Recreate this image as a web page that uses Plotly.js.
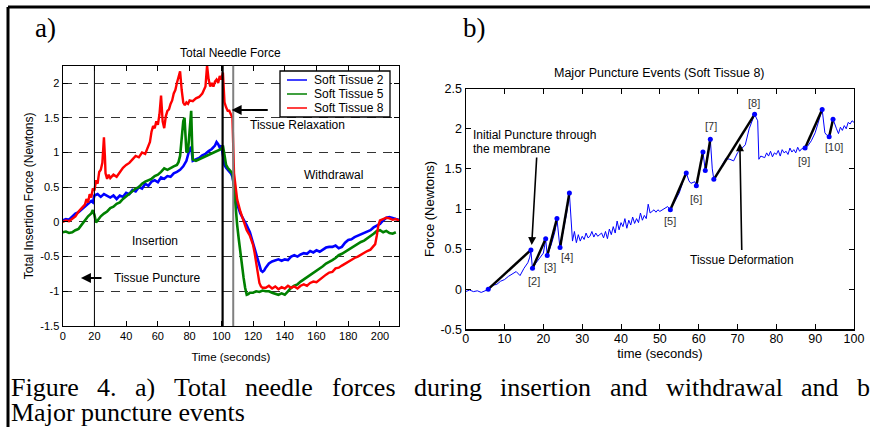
<!DOCTYPE html>
<html>
<head>
<meta charset="utf-8">
<script src="https://cdn.plot.ly/plotly-3.0.1.min.js"></script>
<style>
html,body{margin:0;padding:0;background:#fff;}
#chart{width:870px;height:427px;}
</style>
</head>
<body>
<div id="chart"></div>
<script>
// ---------- Panel a: Total Needle Force ----------
const tissue2_t = [0,2,4,6,8,10,12,14,16,18,19,20,22,24,26,28,30,32,34,36,38,40,42,44,46,48,50,52,54,56,58,60,62,64,66,68,70,72,74,76,78,80,81,82,84,86,88,90,92,94,96,97,98,99,100,101,102,103,104,105,106,107,108,109,110,112,114,116,118,120,122,124,125,126,127,128,130,132,134,136,138,140,142,144,146,148,150,152,154,156,158,160,162,164,166,168,170,172,174,176,178,180,182,184,186,188,190,192,194,196,198,200,202,204,206,208,210,212];
const tissue2_v = [0.02,0.04,0.03,0.07,0.12,0.14,0.18,0.22,0.25,0.3,0.28,0.38,0.4,0.36,0.4,0.37,0.35,0.38,0.33,0.38,0.36,0.42,0.4,0.46,0.44,0.5,0.48,0.55,0.52,0.58,0.6,0.57,0.64,0.62,0.66,0.65,0.7,0.72,0.75,0.8,0.88,1.05,1.08,0.88,0.9,0.92,0.96,0.98,1.02,1.05,1.1,1.15,1.12,1.07,1.1,0.95,0.82,0.78,0.75,0.72,0.7,0.65,0.52,0.38,0.25,0.12,0.04,-0.05,-0.15,-0.3,-0.45,-0.6,-0.7,-0.72,-0.7,-0.66,-0.6,-0.57,-0.55,-0.54,-0.56,-0.54,-0.55,-0.5,-0.48,-0.5,-0.47,-0.45,-0.46,-0.42,-0.44,-0.41,-0.43,-0.4,-0.37,-0.36,-0.36,-0.34,-0.38,-0.36,-0.3,-0.26,-0.25,-0.22,-0.2,-0.18,-0.16,-0.14,-0.12,-0.08,-0.05,-0.03,0.02,0.06,0.07,0.05,0.04,0.03];

const tissue5_t = [0,2,4,6,8,10,12,14,16,18,19,20,21,22,24,26,28,30,32,34,36,38,40,42,44,46,48,50,52,54,56,58,60,62,64,66,68,70,72,73,74,75,76,76.8,77.5,78,79,80,81,81.6,82,84,86,88,90,92,94,96,98,100,101,102,103,104,105,106,107,108,109,110,111,112,113,114,115,116,117,118,120,122,124,126,128,130,132,134,136,138,140,142,144,146,148,150,152,154,156,158,160,162,164,166,168,170,172,174,176,178,180,182,184,186,188,190,192,194,196,198,200,202,204,206,208,210];
const tissue5_v = [-0.15,-0.14,-0.16,-0.15,-0.12,-0.1,-0.04,0.02,0.08,0.12,0.17,0.1,-0.01,0.02,0.08,0.12,0.15,0.2,0.22,0.26,0.28,0.33,0.37,0.4,0.45,0.48,0.5,0.55,0.58,0.6,0.62,0.66,0.68,0.72,0.77,0.75,0.78,0.8,0.82,0.86,0.95,1.2,1.45,1.5,1.2,1.0,1.02,1.3,1.6,1.1,0.9,0.88,0.9,0.93,0.95,0.97,0.98,1.0,1.02,1.05,1.1,0.92,0.82,0.78,0.75,0.72,0.7,0.5,0.2,-0.05,-0.25,-0.45,-0.62,-0.8,-0.95,-1.05,-1.04,-1.02,-1.02,-1.0,-1.01,-0.99,-1.0,-1.0,-1.02,-1.04,-1.05,-1.03,-1.05,-1.0,-0.95,-0.92,-0.9,-0.86,-0.83,-0.8,-0.77,-0.73,-0.7,-0.67,-0.64,-0.6,-0.58,-0.55,-0.52,-0.48,-0.46,-0.43,-0.4,-0.37,-0.34,-0.32,-0.29,-0.27,-0.24,-0.21,-0.17,-0.13,-0.12,-0.15,-0.13,-0.16,-0.17,-0.15];

const tissue8_t = [0,2,4,6,8,10,12,14,15,16,17,18,19,20,21,22,23,24,25,26,26.6,27,28,29,30,32,34,36,38,40,42,44,46,48,50,52,54,55,56,57,58,59,60,61,62,63,64,65,66,67,68,69,70,71,72,73,74,75,76,77,78,79,80,82,84,86,88,89,90,91,92,93,94,95,96,97,98,99,100,101,101.5,102,103,104,105,106,107,108,109,110,112,114,116,118,120,121,122,123,124,125,126,128,130,132,134,136,138,140,142,144,146,148,150,152,154,156,158,160,162,164,166,168,170,172,174,176,178,180,182,184,186,188,190,192,194,196,197,198,199,200,202,204,206,208,210,212];
const tissue8_v = [0.0,0.02,0.01,0.05,0.08,0.15,0.2,0.25,0.33,0.28,0.4,0.35,0.48,0.45,0.6,0.55,0.72,0.75,0.85,1.22,0.95,0.7,0.62,0.68,0.63,0.68,0.65,0.72,0.78,0.82,0.85,0.9,0.95,0.93,1.0,0.98,1.08,1.15,1.3,1.38,1.35,1.45,1.4,1.55,1.82,1.45,1.35,1.52,1.6,1.62,1.7,1.75,1.85,1.9,2.0,2.08,2.17,1.9,1.72,1.68,1.72,1.7,1.75,1.74,1.78,1.8,1.85,1.9,1.95,2.25,2.05,1.95,2.0,1.95,2.02,2.05,2.0,2.1,2.05,2.15,1.8,1.72,1.65,1.6,1.6,1.55,1.5,0.7,0.5,0.32,0.15,0.0,-0.12,-0.2,-0.33,-0.45,-0.6,-0.75,-0.88,-0.93,-0.95,-0.95,-0.92,-0.96,-0.93,-0.97,-0.94,-0.96,-0.92,-0.95,-0.93,-0.96,-0.92,-0.9,-0.92,-0.88,-0.86,-0.87,-0.83,-0.8,-0.76,-0.73,-0.72,-0.67,-0.66,-0.63,-0.6,-0.58,-0.55,-0.52,-0.5,-0.47,-0.45,-0.42,-0.4,-0.35,-0.32,-0.2,-0.05,0.02,0.04,0.06,0.05,0.03,0.04,0.02];

const seriesNames = ['Soft Tissue 2','Soft Tissue 5','Soft Tissue 8'];
const seriesColors = ['#0000ff','#008000','#ff0000'];
const eventLinesA = [20, 100.8, 107.5];   // puncture, insertion end, relaxation end

// ---------- Panel b: Major Puncture Events ----------
const st8_t = [0,1,2,3,4,5,5.5,6,7,8,9,10,11,12,13,14,15,16,16.5,16.8,17.2,18,19,20,20.6,21,22,23,23.5,24.3,25,26,26.7,27.2,27.5,28,28.5,29,29.5,30,30.5,31,31.5,32,32.5,33,33.5,34,34.5,35,35.5,36,36.5,37,37.5,38,38.5,39,39.5,40,40.5,41,41.5,42,42.5,43,43.5,44,44.5,45,45.5,46,46.5,47,47.5,48,48.5,49,49.5,50,51,52,52.7,54,55,56,56.8,57.5,58,59,59.4,60.3,61.1,61.7,62.4,63,63.5,63.9,65,66,67,68,69,70,71,72,73,74.4,75.2,75.5,76,77,77.5,78,78.5,79,79.5,80,80.5,81,81.5,82,82.5,83,83.5,84,84.5,85,85.5,86,86.5,87.4,88,89,90,91,91.8,92.5,93,93.6,94.6,95.5,96,96.5,97,97.5,98,98.5,99,99.5,100];
const st8_v = [-0.03,-0.01,-0.03,-0.02,-0.04,-0.02,0.0,0.0,0.05,0.06,0.1,0.12,0.16,0.19,0.22,0.17,0.26,0.33,0.4,0.48,0.25,0.32,0.38,0.45,0.62,0.42,0.55,0.72,0.88,0.5,0.7,0.95,1.2,0.85,0.6,0.72,0.58,0.68,0.6,0.66,0.62,0.7,0.64,0.66,0.72,0.65,0.7,0.66,0.68,0.7,0.64,0.72,0.63,0.75,0.68,0.78,0.7,0.85,0.74,0.83,0.78,0.88,0.76,0.86,0.8,0.9,0.82,0.88,0.83,0.95,0.86,0.92,0.88,1.06,0.95,0.97,0.99,0.96,0.99,0.97,1.0,1.03,0.99,1.1,1.2,1.35,1.45,1.35,1.32,1.34,1.29,1.5,1.71,1.48,1.7,1.87,1.5,1.37,1.45,1.55,1.63,1.62,1.6,1.7,1.75,1.8,2.0,2.18,2.1,1.62,1.66,1.64,1.7,1.66,1.72,1.65,1.7,1.68,1.73,1.66,1.74,1.7,1.72,1.68,1.76,1.71,1.74,1.7,1.77,1.72,1.75,1.76,1.78,1.85,1.95,2.1,2.24,1.95,1.92,1.9,2.12,2.0,1.94,2.02,1.98,2.04,2.0,2.08,2.06,2.1,2.08];

// puncture-event segments (start, end)
const seg_t = [5.8,16.8,null,17.2,20.6,null,21.0,23.5,null,24.3,26.7,null,52.7,56.8,null,59.4,61.1,null,61.7,63.0,null,63.9,74.4,null,87.4,91.8,null,93.6,94.6];
const seg_v = [0.0,0.49,null,0.26,0.63,null,0.42,0.88,null,0.52,1.2,null,0.99,1.45,null,1.29,1.71,null,1.48,1.87,null,1.37,2.18,null,1.76,2.24,null,1.9,2.12];
const eventLabels = ['[2]','[3]','[4]','[5]','[6]','[7]','[8]','[9]','[10]'];
const eventLabel_t = [17.6,21.7,26.2,52.6,59.3,63.2,74.3,87.1,94.9];
const eventLabel_v = [0.1,0.28,0.4,0.85,1.13,2.03,2.32,1.6,1.77];

const captionLine1 = 'Figure 4. a) Total needle forces during insertion and withdrawal and b';
const captionLine2 = 'Major puncture events';

const FONT = 'Arial, "Liberation Sans", sans-serif';
const SERIF = '"Times New Roman", "Liberation Serif", serif';

const traces = [
  {x: tissue2_t, y: tissue2_v, name: seriesNames[0], type:'scatter', mode:'lines', line:{color:seriesColors[0], width:2.6}, xaxis:'x', yaxis:'y', showlegend:false},
  {x: tissue5_t, y: tissue5_v, name: seriesNames[1], type:'scatter', mode:'lines', line:{color:seriesColors[1], width:2.6}, xaxis:'x', yaxis:'y', showlegend:false},
  {x: tissue8_t, y: tissue8_v, name: seriesNames[2], type:'scatter', mode:'lines', line:{color:seriesColors[2], width:2.4}, xaxis:'x', yaxis:'y', showlegend:false},
  {x: st8_t, y: st8_v, name:'Soft Tissue 8', type:'scatter', mode:'lines', line:{color:'#0000ff', width:1}, xaxis:'x2', yaxis:'y2', showlegend:false},
  {x: seg_t, y: seg_v, name:'Puncture events', type:'scatter', mode:'lines+markers', line:{color:'#000', width:2.5}, marker:{color:'#0000ff', size:5}, connectgaps:false, xaxis:'x2', yaxis:'y2', showlegend:false}
];

const W = 870, H = 427;
const px = v => v / W;
const py = v => 1 - v / H;

const shapes = [];
// panel a event lines
shapes.push({type:'line', xref:'x', yref:'y domain', x0:eventLinesA[0], x1:eventLinesA[0], y0:0, y1:1, line:{color:'#000', width:1}});
shapes.push({type:'line', xref:'x', yref:'y domain', x0:eventLinesA[1], x1:eventLinesA[1], y0:0, y1:1, line:{color:'#000', width:2.2}});
shapes.push({type:'line', xref:'x', yref:'y domain', x0:eventLinesA[2], x1:eventLinesA[2], y0:0, y1:1, line:{color:'#808080', width:2}});
// figure frame
shapes.push({type:'line', xref:'paper', yref:'paper', x0:px(8), x1:1, y0:py(7), y1:py(7), line:{color:'#000', width:3}});
shapes.push({type:'line', xref:'paper', yref:'paper', x0:px(8), x1:px(8), y0:0, y1:py(7), line:{color:'#000', width:3}});
// manual legend box
shapes.push({type:'rect', xref:'paper', yref:'paper', x0:px(280), x1:px(390), y0:py(117), y1:py(71), line:{color:'#000', width:1.3}, fillcolor:'#fff', layer:'above'});
const legendRows = [80, 94, 108];
for (let i = 0; i < 3; i++) {
  shapes.push({type:'line', xref:'paper', yref:'paper', x0:px(287), x1:px(307), y0:py(legendRows[i]), y1:py(legendRows[i]), line:{color:seriesColors[i], width:1.5}, layer:'above'});
}

const annotations = [];
const txt = (x, y, text, size, extra) => Object.assign({x, y, text, showarrow:false, xanchor:'center', yanchor:'middle', font:{family:FONT, size:size||12, color:'#000'}}, extra||{});
// subplot titles
annotations.push(txt(px(230), py(53), 'Total Needle Force', 12, {xref:'paper', yref:'paper'}));
annotations.push(txt(px(659), py(73), 'Major Puncture Events (Soft Tissue 8)', 12.5, {xref:'paper', yref:'paper'}));
// panel letters
annotations.push({xref:'paper', yref:'paper', x:px(33), y:py(28), xanchor:'left', yanchor:'middle', text:'a)', showarrow:false, font:{family:SERIF, size:27, color:'#000'}});
annotations.push({xref:'paper', yref:'paper', x:px(461), y:py(28), xanchor:'left', yanchor:'middle', text:'b)', showarrow:false, font:{family:SERIF, size:27, color:'#000'}});

// caption: first line justified across the page width (word positions measured)
const CAP_SIZE = 26;
const ctx = document.createElement('canvas').getContext('2d');
ctx.font = CAP_SIZE + 'px "Liberation Serif", "Times New Roman", serif';
const words1 = captionLine1.split(' ');
const widths1 = words1.map(w => ctx.measureText(w).width);
const lineLeft = 10, lineRight = 869;
const gap = (lineRight - lineLeft - widths1.reduce((a,b)=>a+b,0)) / (words1.length - 1);
let cx = lineLeft;
for (let i = 0; i < words1.length; i++) {
  annotations.push({xref:'paper', yref:'paper', x:px(cx), y:py(387), xanchor:'left', yanchor:'middle', borderpad:0, text:words1[i], showarrow:false, font:{family:SERIF, size:CAP_SIZE, color:'#000'}});
  cx += widths1[i] + gap;
}
annotations.push({xref:'paper', yref:'paper', x:px(10), y:py(412), xanchor:'left', yanchor:'middle', borderpad:0, text:captionLine2, showarrow:false, font:{family:SERIF, size:CAP_SIZE, color:'#000'}});

// legend text
for (let i = 0; i < 3; i++) {
  annotations.push(txt(px(312), py(legendRows[i]), seriesNames[i], 12, {xref:'paper', yref:'paper', xanchor:'left'}));
}
// panel a labels
annotations.push(txt(58, -0.27, 'Insertion', 12, {xref:'x', yref:'y'}));
annotations.push(txt(31, -0.81, 'Tissue Puncture', 12, {xref:'x', yref:'y', xanchor:'left'}));
annotations.push(txt(147.7, 1.39, 'Tissue Relaxation', 12, {xref:'x', yref:'y'}));
annotations.push(txt(171, 0.68, 'Withdrawal', 12, {xref:'x', yref:'y'}));
annotations.push({xref:'x', yref:'y', axref:'x', ayref:'y', x:11.5, y:-0.81, ax:25.4, ay:-0.81, text:'', showarrow:true, arrowhead:2, arrowsize:1, arrowwidth:2, arrowcolor:'#000'});
annotations.push({xref:'x', yref:'y', axref:'x', ayref:'y', x:106.5, y:1.61, ax:130.2, ay:1.61, text:'', showarrow:true, arrowhead:2, arrowsize:1, arrowwidth:2, arrowcolor:'#000'});
// panel b labels
annotations.push(txt(1.3, 1.92, 'Initial Puncture through', 12, {xref:'x2', yref:'y2', xanchor:'left'}));
annotations.push(txt(1.3, 1.75, 'the membrane', 12, {xref:'x2', yref:'y2', xanchor:'left'}));
annotations.push(txt(71.2, 0.37, 'Tissue Deformation', 12, {xref:'x2', yref:'y2'}));
annotations.push({xref:'x2', yref:'y2', axref:'x2', ayref:'y2', x:17.0, y:0.55, ax:18.3, ay:1.66, text:'', showarrow:true, arrowhead:2, arrowsize:1, arrowwidth:1.6, arrowcolor:'#000'});
annotations.push({xref:'x2', yref:'y2', axref:'x2', ayref:'y2', x:70.6, y:1.82, ax:71.1, ay:0.47, text:'', showarrow:true, arrowhead:2, arrowsize:1, arrowwidth:1.6, arrowcolor:'#000'});
for (let i = 0; i < eventLabels.length; i++) {
  annotations.push(txt(eventLabel_t[i], eventLabel_v[i], eventLabels[i], 11, {xref:'x2', yref:'y2', font:{family:FONT, size:11, color:'#333'}}));
}

const axisCommon = {showline:true, linecolor:'#000', linewidth:1.2, mirror:'ticks', ticks:'inside', ticklen:5, tickcolor:'#000', zeroline:false, tickfont:{family:FONT, size:11, color:'#000'}};

const layout = {
  width: W, height: H,
  margin:{l:0, r:0, t:0, b:0},
  paper_bgcolor:'#fff', plot_bgcolor:'#fff',
  showlegend:false,
  title:{text:''},
  xaxis: Object.assign({}, axisCommon, {domain:[px(62.7), px(399)], anchor:'y', range:[0,212], tickvals:[0,20,40,60,80,100,120,140,160,180,200], showgrid:false,
    title:{text:'Time (seconds)', font:{family:FONT, size:11.5, color:'#000'}, standoff:11}}),
  yaxis: Object.assign({}, axisCommon, {domain:[1-326/H, 1-65.7/H], anchor:'x', range:[-1.5,2.25], tickvals:[-1.5,-1,-0.5,0,0.5,1,1.5,2], ticktext:['-1.5','-1','-0.5','0','0.5','1','1.5','2'],
    showgrid:true, gridcolor:'#333', gridwidth:1, griddash:'9px,7px',
    title:{text:'Total Insertion Force (Newtons)', font:{family:FONT, size:12, color:'#000'}, standoff:4}}),
  xaxis2: Object.assign({}, axisCommon, {domain:[px(465.7), px(854)], anchor:'y2', range:[0,100], dtick:10, tick0:0, showgrid:false,
    tickfont:{family:FONT, size:12.5, color:'#000'}, ticklabelstandoff:-3,
    title:{text:'time (seconds)', font:{family:FONT, size:13, color:'#000'}, standoff:0}}),
  yaxis2: Object.assign({}, axisCommon, {domain:[1-329.3/H, 1-88.7/H], anchor:'x2', range:[-0.5,2.5], tickvals:[-0.5,0,0.5,1,1.5,2,2.5], ticktext:['-0.5','0','0.5','1','1.5','2','2.5'], showgrid:false,
    tickfont:{family:FONT, size:12.5, color:'#000'},
    title:{text:'Force (Newtons)', font:{family:FONT, size:13, color:'#000'}, standoff:3}}),
  shapes: shapes,
  annotations: annotations
};

Plotly.newPlot('chart', traces, layout, {staticPlot:true, displayModeBar:false});
</script>
</body>
</html>
